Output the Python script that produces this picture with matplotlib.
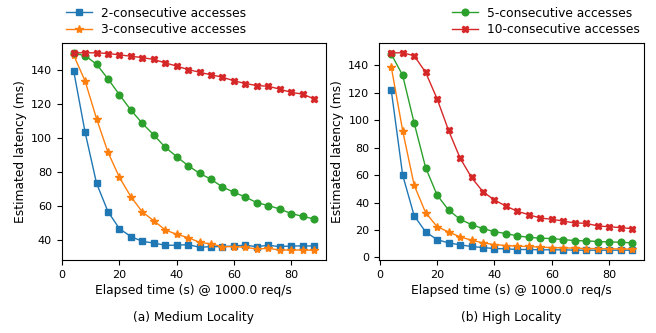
import matplotlib
matplotlib.use("Agg")
import matplotlib.pyplot as plt

plt.rcParams['font.family'] = ['DejaVu Sans']
plt.rcParams['font.size'] = 8.85
plt.rcParams['xtick.labelsize'] = 8.0
plt.rcParams['ytick.labelsize'] = 8.0

x = [4, 8, 12, 16, 20, 24, 28, 32, 36, 40, 44, 48, 52, 56, 60, 64, 68, 72, 76, 80, 84, 88]

# (a) Medium locality
med_2 = [139.2, 103.1, 73.2, 56.6, 46.6, 42.0, 39.2, 38.2, 36.9, 36.9, 37.3, 35.7,
         36.1, 36.1, 36.5, 36.9, 36.1, 36.9, 36.1, 36.5, 36.5, 36.5]
med_3 = [148.4, 133.2, 111.1, 91.4, 76.7, 65.4, 56.4, 51.3, 45.9, 43.3, 41.4, 38.6,
         37.7, 36.1, 36.1, 35.7, 34.7, 35.1, 34.1, 34.1, 34.1, 34.0]
med_5 = [149.5, 148.2, 143.1, 134.5, 125.2, 116.2, 108.4, 101.6, 94.4, 88.9, 83.6, 79.1,
         75.6, 71.1, 68.0, 65.2, 61.9, 60.2, 58.2, 55.5, 53.9, 52.3]
med_10 = [149.8, 149.8, 149.8, 149.4, 148.6, 147.8, 147.0, 145.9, 143.9, 142.0, 140.0, 138.4,
          136.9, 135.5, 133.4, 131.8, 130.6, 130.2, 128.5, 126.6, 125.6, 122.8]

# (b) High locality
high_2 = [121.9, 59.9, 30.4, 18.6, 13.0, 10.6, 9.2, 8.0, 7.2, 6.5, 6.3, 5.8,
          5.8, 5.6, 5.6, 5.6, 5.3, 5.3, 5.3, 5.3, 5.3, 5.3]
high_3 = [138.8, 92.2, 52.6, 32.6, 22.4, 18.6, 15.0, 12.6, 10.6, 9.4, 8.7, 8.2,
          8.0, 7.5, 7.2, 7.0, 6.8, 6.5, 6.5, 6.3, 6.3, 6.0]
high_5 = [148.0, 132.5, 97.8, 65.4, 45.4, 34.5, 27.8, 23.9, 21.0, 18.8, 17.4, 15.7,
          14.7, 14.0, 13.8, 13.0, 12.3, 12.1, 11.6, 11.3, 11.1, 10.6]
high_10 = [148.9, 148.9, 146.8, 134.7, 115.4, 92.4, 72.4, 58.2, 47.8, 41.8, 37.4, 33.6,
           31.1, 28.7, 27.8, 26.5, 25.1, 24.9, 22.9, 22.4, 21.7, 21.0]

labels = ['2-consecutive accesses', '3-consecutive accesses',
          '5-consecutive accesses', '10-consecutive accesses']
markers = ['s', '*', 'o', 'X']
colors = ['#1f77b4', '#ff7f0e', '#2ca02c', '#d62728']
xlabels = ['Elapsed time (s) @ 1000.0 req/s', 'Elapsed time (s) @ 1000.0  req/s']
captions = ['(a) Medium Locality', '(b) High Locality']
ylabel = 'Estimated latency (ms)'

fig = plt.figure(figsize=(6.56, 3.33), dpi=100)
ax1 = fig.add_axes([0.094, 0.219, 0.403, 0.652])
ax2 = fig.add_axes([0.578, 0.219, 0.404, 0.652])

series = [[med_2, med_3, med_5, med_10], [high_2, high_3, high_5, high_10]]
for ax, data, xl in zip([ax1, ax2], series, xlabels):
    for ys, lab, m, c in zip(data, labels, markers, colors):
        ms = 6.0 if m == '*' else 4.8
        ax.plot(x, ys, marker=m, color=c, label=lab, linewidth=1.0, markersize=ms)
    ax.set_xlabel(xl, labelpad=3)
    ax.set_ylabel(ylabel, labelpad=3)
    ax.set_xticks([0, 20, 40, 60, 80])

ax2.set_yticks([0, 20, 40, 60, 80, 100, 120, 140])
ax1.set_yticks([40, 60, 80, 100, 120, 140])

h1, l1 = ax1.get_legend_handles_labels()
ax1.legend(h1[:2], l1[:2], loc='lower left', bbox_to_anchor=(0.0, 1.01),
           frameon=False, borderaxespad=0.0, borderpad=0.35, handlelength=2.1,
           handletextpad=0.73, labelspacing=0.32)
h2, l2 = ax2.get_legend_handles_labels()
ax2.legend(h2[2:], l2[2:], loc='lower right', bbox_to_anchor=(1.0, 1.01),
           frameon=False, borderaxespad=0.0, borderpad=0.35, handlelength=2.1,
           handletextpad=0.73, labelspacing=0.32)

for ax, cap in zip([ax1, ax2], captions):
    pos = ax.get_position()
    fig.text((pos.x0 + pos.x1) / 2, 1 - 318 / 333, cap, ha='center', va='center')

fig.savefig('out.png', dpi=100)
